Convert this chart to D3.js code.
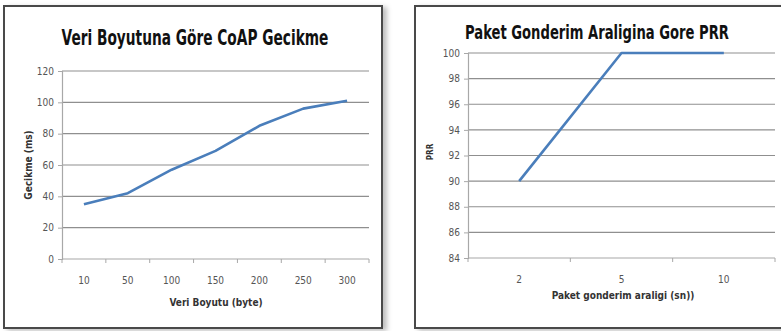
<!DOCTYPE html>
<html>
<head>
<meta charset="utf-8">
<script src="https://cdn.jsdelivr.net/npm/d3@7"></script>
<style>
  html, body { margin: 0; padding: 0; background: #fff; }
  svg { display: block; }
  text { font-family: "Liberation Sans Narrow", "Arial Narrow", "DejaVu Sans Condensed", sans-serif; }
</style>
</head>
<body>
<svg id="chart" width="781" height="331"></svg>
<script>
// ---- Data: left chart ----
const leftTitle = "Veri Boyutuna Göre CoAP Gecikme";
const leftCategories = ["10", "50", "100", "150", "200", "250", "300"];
const leftValues = [35, 42, 57, 69, 85, 96, 101];
const leftYTicks = [0, 20, 40, 60, 80, 100, 120];
const leftXTitle = "Veri Boyutu (byte)";
const leftYTitle = "Gecikme  (ms)";

// ---- Data: right chart ----
const rightTitle = "Paket Gonderim Araligina Gore PRR";
const rightCategories = ["2", "5", "10"];
const rightValues = [90, 100, 100];
const rightYTicks = [84, 86, 88, 90, 92, 94, 96, 98, 100];
const rightXTitle = "Paket gonderim araligi (sn))";
const rightYTitle = "PRR";

const svg = d3.select("#chart");

const defs = svg.append("defs");
const f = defs.append("filter").attr("id", "shadow").attr("x", "-5%").attr("y", "-5%").attr("width", "115%").attr("height", "115%");
f.append("feDropShadow").attr("dx", 4).attr("dy", 2).attr("stdDeviation", 2.5).attr("flood-color", "#000").attr("flood-opacity", 0.25);

function drawChart(cfg) {
  const g = svg.append("g");
  // frame
  g.append("rect")
    .attr("x", cfg.frame[0]).attr("y", cfg.frame[1])
    .attr("width", cfg.frame[2]).attr("height", cfg.frame[3])
    .attr("fill", "#fff").attr("stroke", "#4a4a4a").attr("stroke-width", 2)
    .attr("filter", "url(#shadow)");

  const x = d3.scaleBand().domain(cfg.categories).range([cfg.plot.left, cfg.plot.right]).padding(0);
  const y = d3.scaleLinear().domain(cfg.yDomain).range([cfg.plot.bottom, cfg.plot.top]);

  // gridlines
  g.append("g").selectAll("line").data(cfg.yTicks.filter(t => t !== cfg.yDomain[0])).join("line")
    .attr("x1", cfg.plot.left).attr("x2", cfg.plot.right)
    .attr("y1", d => y(d)).attr("y2", d => y(d))
    .attr("stroke", "#8f8f8f").attr("stroke-width", 1.2);

  // y axis
  const yAxis = g.append("g").attr("transform", `translate(${cfg.plot.left},0)`)
    .call(d3.axisLeft(y).tickValues(cfg.yTicks).tickSize(4).tickPadding(4));
  yAxis.select(".domain").attr("stroke", "#a8a8a8").attr("stroke-width", 1.2);
  yAxis.selectAll(".tick line").attr("stroke", "#a8a8a8");
  yAxis.selectAll(".tick text").attr("fill", "#555").attr("font-size", cfg.tickSize)
    .style("font-family", '"Liberation Sans Narrow", "Arial Narrow", "DejaVu Sans Condensed", sans-serif');

  // x axis line
  g.append("line")
    .attr("x1", cfg.plot.left).attr("x2", cfg.plot.right)
    .attr("y1", cfg.plot.bottom).attr("y2", cfg.plot.bottom)
    .attr("stroke", "#a8a8a8").attr("stroke-width", 1.2);
  // x tick marks at category boundaries
  const bounds = cfg.categories.map(c => x(c)).concat([x(cfg.categories[cfg.categories.length - 1]) + x.bandwidth()]);
  g.append("g").selectAll("line").data(bounds).join("line")
    .attr("x1", d => d).attr("x2", d => d)
    .attr("y1", cfg.plot.bottom).attr("y2", cfg.plot.bottom + 4)
    .attr("stroke", "#a8a8a8").attr("stroke-width", 1);
  // x labels
  g.append("g").selectAll("text").data(cfg.categories).join("text")
    .attr("x", d => x(d) + x.bandwidth() / 2)
    .attr("y", cfg.plot.bottom + 25)
    .attr("text-anchor", "middle")
    .attr("fill", "#555").attr("font-size", cfg.tickSize)
    .text(d => d);

  // line
  const line = d3.line()
    .x((d, i) => x(cfg.categories[i]) + x.bandwidth() / 2)
    .y(d => y(d));
  g.append("path").datum(cfg.values)
    .attr("d", line)
    .attr("fill", "none").attr("stroke", "#4a7ebb").attr("stroke-width", 2.6)
    .attr("stroke-linejoin", "round");

  // title (horizontally condensed to match the narrow original face)
  const tg = g.append("g");
  const t = tg.append("text")
    .attr("x", 0).attr("y", 0)
    .attr("text-anchor", "middle")
    .attr("font-size", cfg.titleSize).attr("font-weight", "bold").attr("fill", "#111")
    .text(cfg.title);
  const w = t.node().getComputedTextLength();
  const sx = Math.min(1, cfg.titleLen / w);
  tg.attr("transform", `translate(${cfg.titlePos[0]},${cfg.titlePos[1]}) scale(${sx},1)`);

  // x title
  g.append("text")
    .attr("x", cfg.xTitlePos[0]).attr("y", cfg.xTitlePos[1])
    .attr("text-anchor", "middle")
    .attr("font-size", 10).attr("font-weight", "bold").attr("fill", "#333")
    .text(cfg.xTitle);

  // y title
  g.append("text")
    .attr("transform", `translate(${cfg.yTitlePos[0]},${cfg.yTitlePos[1]}) rotate(-90)`)
    .attr("text-anchor", "middle")
    .attr("font-size", cfg.yTitleSize).attr("font-weight", "bold").attr("fill", "#333")
    .text(cfg.yTitle);
}

drawChart({
  frame: [4, 6, 378, 322],
  plot: { left: 62, right: 369, top: 71, bottom: 259 },
  categories: leftCategories, values: leftValues,
  yDomain: [0, 120], yTicks: leftYTicks,
  tickSize: 10,
  title: leftTitle, titlePos: [195, 45], titleSize: 22, titleLen: 267,
  xTitle: leftXTitle, xTitlePos: [216, 306],
  yTitle: leftYTitle, yTitlePos: [32, 165], yTitleSize: 10
});

drawChart({
  frame: [415, 6, 372, 322],
  plot: { left: 468, right: 775, top: 53, bottom: 258 },
  categories: rightCategories, values: rightValues,
  yDomain: [84, 100], yTicks: rightYTicks,
  tickSize: 10,
  title: rightTitle, titlePos: [597, 39], titleSize: 19, titleLen: 264,
  xTitle: rightXTitle, xTitlePos: [623, 299],
  yTitle: rightYTitle, yTitlePos: [433, 152], yTitleSize: 8
});
</script>
</body>
</html>
